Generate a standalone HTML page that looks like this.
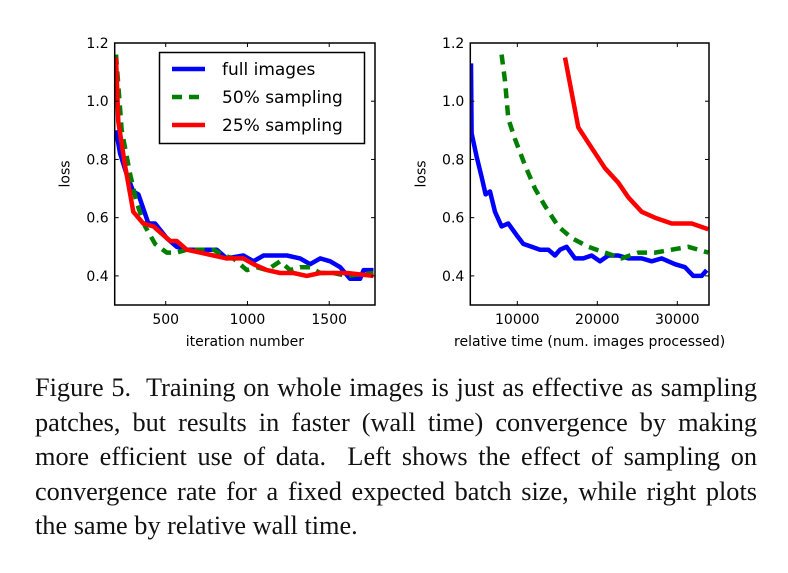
<!DOCTYPE html>
<html><head><meta charset="utf-8"><style>
body{margin:0;background:#fff;width:788px;height:573px;overflow:hidden;position:relative}
svg text{font-family:"DejaVu Sans","Liberation Sans",sans-serif;font-size:14px;fill:#000}
#cap{position:absolute;left:35px;top:371px;width:722px;font-family:"Liberation Serif",serif;font-size:26.3px;line-height:34.6px;text-align:justify;color:#111;margin:0}
</style></head><body>
<svg id="chart" width="788" height="573" style="position:absolute;left:0;top:0"></svg>
<p id="cap">Figure 5.&nbsp; Training on whole images is just as effective as sampling patches, but results in faster (wall time) convergence by making more efficient use of data.&nbsp; Left shows the effect of sampling on convergence rate for a fixed expected batch size, while right plots the same by relative wall time.</p>
<script>
const leftFullX=[196,221,261,302,333,394,435,506,567,629,690,751,812,873,975,1037,1098,1159,1241,1322,1383,1445,1506,1567,1628,1689,1710,1771];
const leftFullY=[0.9,0.82,0.75,0.69,0.68,0.58,0.58,0.53,0.5,0.49,0.49,0.49,0.49,0.46,0.47,0.45,0.47,0.47,0.47,0.46,0.44,0.46,0.45,0.43,0.39,0.39,0.42,0.42];
const left50X=[196,231,282,323,374,435,506,567,629,710,792,853,914,996,1057,1118,1200,1261,1322,1383,1445,1526,1608,1771];
const left50Y=[1.16,0.9,0.75,0.65,0.57,0.51,0.48,0.48,0.49,0.49,0.49,0.47,0.46,0.42,0.43,0.42,0.45,0.42,0.43,0.43,0.41,0.41,0.40,0.41];
const left25X=[196,210,251,302,363,425,465,527,567,629,710,792,873,975,1037,1118,1200,1281,1363,1445,1526,1608,1771];
const left25Y=[1.15,0.93,0.78,0.62,0.58,0.57,0.55,0.52,0.52,0.49,0.48,0.47,0.46,0.46,0.44,0.42,0.41,0.41,0.40,0.41,0.41,0.41,0.40];
const rightFullX=[4208,4291,4917,5541,6042,6583,7208,8042,8875,9917,10750,11792,12833,13875,14708,15333,16167,17208,18250,19292,20333,21375,22625,23875,25542,26792,28042,29708,30958,32000,33042,33667];
const rightFullY=[1.13,0.89,0.81,0.74,0.68,0.69,0.62,0.57,0.58,0.54,0.51,0.5,0.49,0.49,0.47,0.49,0.5,0.46,0.46,0.47,0.45,0.47,0.47,0.46,0.46,0.45,0.46,0.44,0.43,0.40,0.40,0.42];
const right50X=[8042,8458,8875,9708,10958,12208,13458,15125,16792,18875,20958,23042,25125,27208,29292,31375,33875];
const right50Y=[1.16,1.07,0.94,0.87,0.78,0.7,0.64,0.57,0.53,0.5,0.48,0.46,0.48,0.48,0.49,0.5,0.48];
const right25X=[15958,17625,19292,20958,22625,23875,25542,27208,29292,31792,33875];
const right25Y=[1.15,0.91,0.84,0.77,0.72,0.67,0.62,0.60,0.58,0.58,0.56];
const leftXTicks=[500,1000,1500];
const rightXTicks=[10000,20000,30000];
const yTicks=[0.4,0.6,0.8,1.0,1.2];
const legendLabels=["full images","50% sampling","25% sampling"];

const NS="http://www.w3.org/2000/svg";
const svg=document.getElementById('chart');
function mk(t,a,p){const e=document.createElementNS(NS,t);for(const k in a)e.setAttribute(k,a[k]);(p||svg).appendChild(e);return e;}
function panel(name,L,R,T,B,x0,x1,xt,xlabel,series){
  const g=mk('g',{});
  
  
  const sx=v=>L+(v-x0)/(x1-x0)*(R-L);
  const sy=v=>B-(v-0.3)/(1.2-0.3)*(B-T);
  const clip=mk('clipPath',{id:'c'+name},g);mk('rect',{x:L,y:T,width:R-L,height:B-T},clip);
  series.forEach(s=>{
    const pts=s.x.map((v,i)=>sx(v).toFixed(1)+','+sy(s.y[i]).toFixed(1)).join(' ');
    const a={points:pts,fill:'none',stroke:s.c,'stroke-width':4.5,'stroke-linejoin':'round','clip-path':'url(#c'+name+')'};
    if(s.d)a['stroke-dasharray']='10,7';
    const pl=mk('polyline',a,g);
    
    
  });
  mk('rect',{x:L,y:T,width:R-L,height:B-T,fill:'none',stroke:'#000','stroke-width':1.5},g);
  xt.forEach(v=>{const x=sx(v);
    mk('line',{x1:x,x2:x,y1:B,y2:B-4,stroke:'#000'},g);mk('line',{x1:x,x2:x,y1:T,y2:T+4,stroke:'#000'},g);
    const t=mk('text',{x:x,y:B+19,'text-anchor':'middle'},g);t.textContent=v;
    
    });
  yTicks.forEach(v=>{const y=sy(v);
    mk('line',{x1:L,x2:L+4,y1:y,y2:y,stroke:'#000'},g);mk('line',{x1:R,x2:R-4,y1:y,y2:y,stroke:'#000'},g);
    const t=mk('text',{x:L-6,y:y+5,'text-anchor':'end'},g);t.textContent=v.toFixed(1);
    
    });
  const xl=mk('text',{x:(L+R)/2,y:B+41,'text-anchor':'middle'},g);xl.textContent=xlabel;
  
  
  const yl=mk('text',{x:0,y:0,'text-anchor':'middle',transform:`translate(${L-45},${(T+B)/2}) rotate(-90)`},g);yl.textContent='loss';
  
  
  return g;
}
panel('left-chart',114.7,375,43,305,188,1780,leftXTicks,'iteration number',[
 {x:leftFullX,y:leftFullY,c:'#0000ff',n:'full-images-line'},
 {x:left50X,y:left50Y,c:'#007f00',d:1,n:'sampling-50-line'},
 {x:left25X,y:left25Y,c:'#ff0000',n:'sampling-25-line'}]);
panel('right-chart',470.3,709,43,305,4125,33960,rightXTicks,'relative time (num. images processed)',[
 {x:rightFullX,y:rightFullY,c:'#0000ff',n:'full-images-line'},
 {x:right50X,y:right50Y,c:'#007f00',d:1,n:'sampling-50-line'},
 {x:right25X,y:right25Y,c:'#ff0000',n:'sampling-25-line'}]);
const lg=mk('g',{});


mk('rect',{x:159.5,y:52.5,width:205,height:91,fill:'#fff',stroke:'#000','stroke-width':1.5},lg);
const cols=['#0000ff','#007f00','#ff0000'];
legendLabels.forEach((l,i)=>{const y=69+i*28;
  const a={x1:172,x2:205,y1:y,y2:y,stroke:cols[i],'stroke-width':4.5};if(i==1)a['stroke-dasharray']='10,7';
  mk('line',a,lg);
  const t=mk('text',{x:222,y:y+6,style:'font-size:17px'},lg);t.textContent=l;
  
  });
</script>
</body></html>
